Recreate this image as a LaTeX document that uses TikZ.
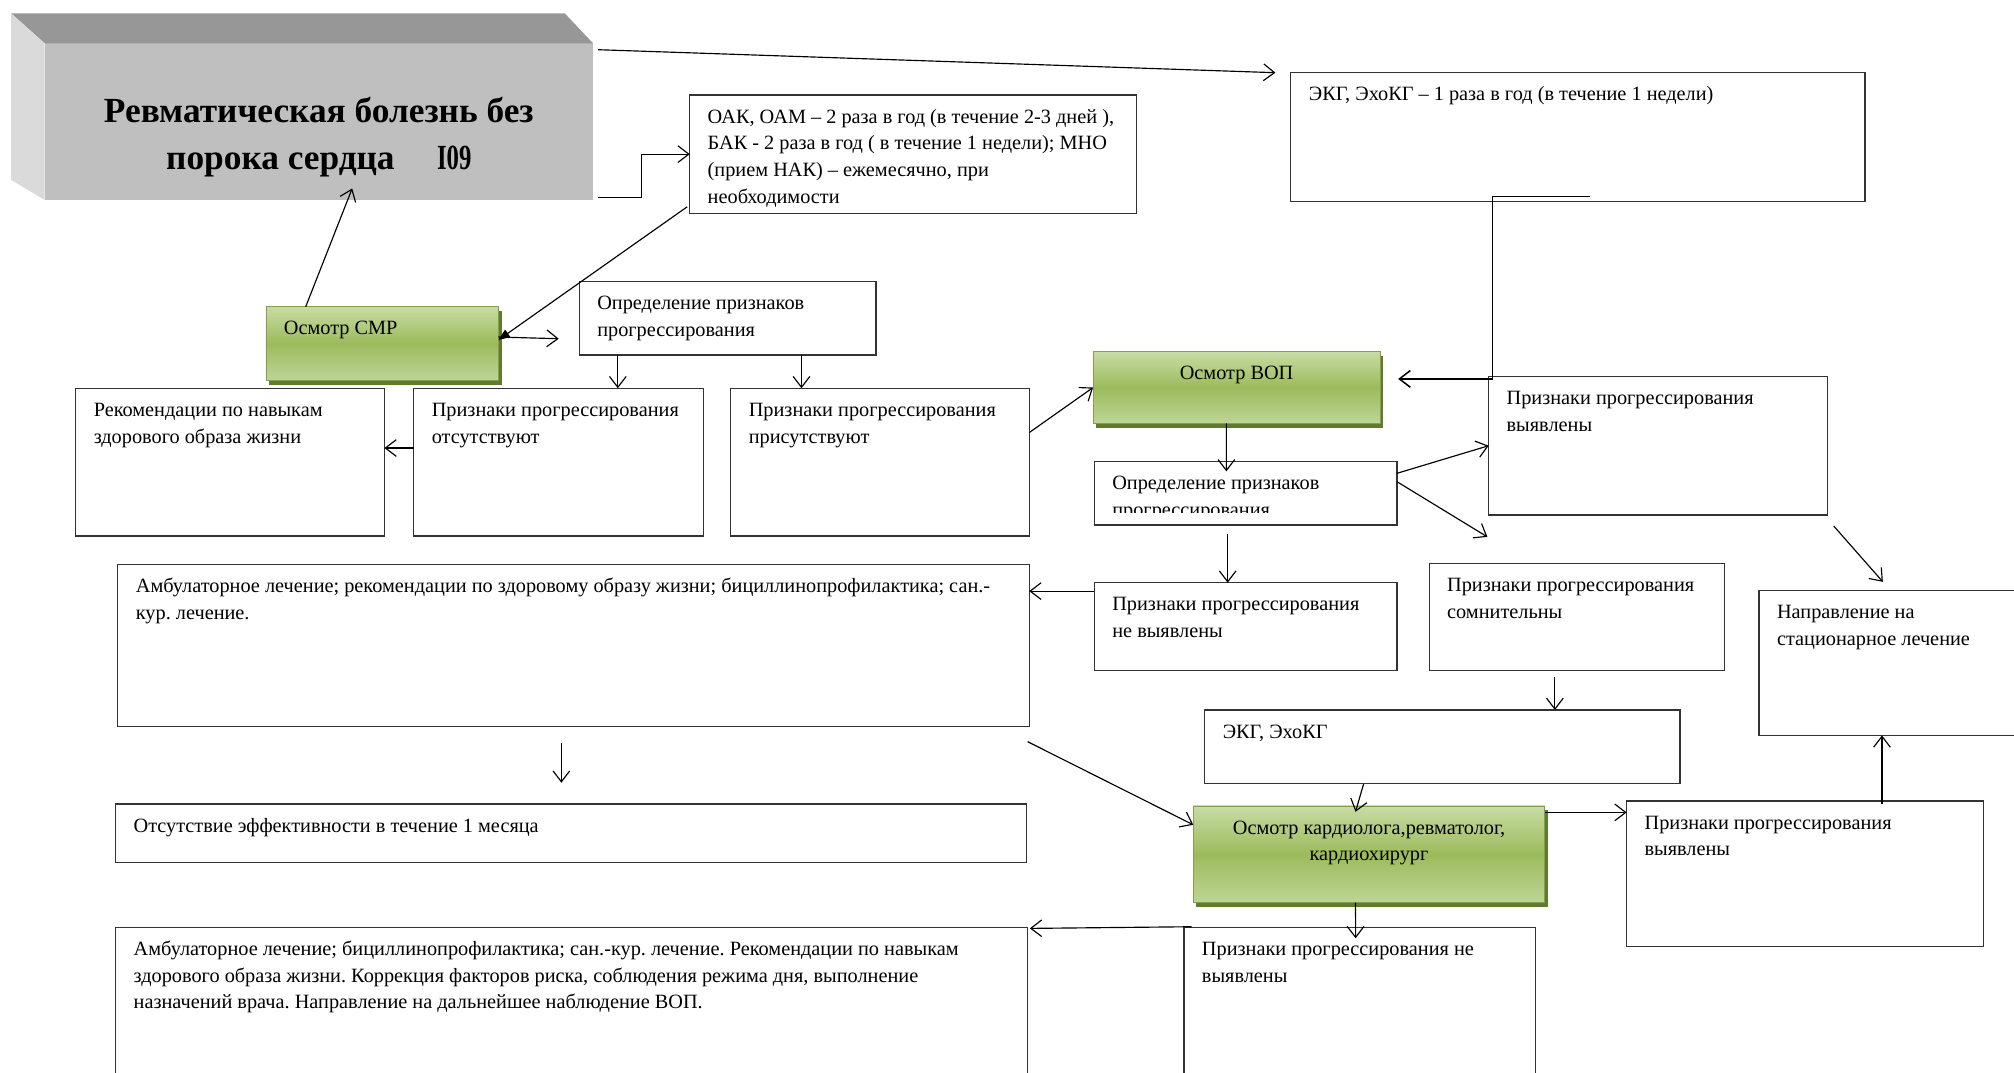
\documentclass[tikz,border=0pt]{standalone}
\usepackage{fontspec}
\usepackage{graphicx}
\setmainfont{Liberation Serif}
\usetikzlibrary{arrows.meta, positioning, shadows}

\definecolor{facegray}{HTML}{BFBFBF}
\definecolor{topgray}{HTML}{979797}
\definecolor{sidegray}{HTML}{DADADA}
\definecolor{greentop}{HTML}{C8DCA4}
\definecolor{greenmid}{HTML}{9CBB5C}
\definecolor{greenbot}{HTML}{BED596}
\definecolor{greenshade}{HTML}{5E7B2E}

\newcommand{\boxtxt}[3]{\parbox[c][#1][t]{#2}{\raggedright\frenchspacing\strut#3}}

\begin{document}
\begin{tikzpicture}[
    x=1pt, y=-1pt,
    font=\fontsize{15.8}{20.8}\selectfont,
    every node/.style={outer sep=0pt},
    block/.style={draw=black!80, line width=0.9pt, anchor=north west,
        inner xsep=14pt, inner ysep=7.3pt},
    exam/.style={block, draw=greenmid!85!black, line width=0.5pt,
        top color=greentop, bottom color=greenbot, middle color=greenmid,
        drop shadow={shadow xshift=2.5pt, shadow yshift=-3.5pt,
            fill=greenshade, opacity=1}},
    link/.style={line width=0.9pt, -{Straight Barb[length=8.5pt, width=13pt]}}
]

\useasboundingbox (0,0) rectangle (1568,835);
\clip (0,0) rectangle (1568,835);

% head block
\node[anchor=north west, fill=facegray, inner sep=0pt] (title) at (34.7,33.7)
    {\parbox[c][122pt][t]{427pt}{\centering\fontsize{27.5}{36.3}\selectfont\bfseries
    \vspace*{36.5pt}\strut Ревматическая болезнь без\\порока сердца\hspace{1.2em}\scalebox{0.7}[1]{I09}}};
\fill[topgray] ([shift={(-26,-23.3)}]title.north west) -- ([shift={(-22,-23.3)}]title.north east)
    -- (title.north east) -- (title.north west) -- cycle;
\fill[sidegray] ([shift={(-26,-23.3)}]title.north west) -- (title.north west)
    -- (title.south west) -- ([shift={(-26,-15.7)}]title.south west) -- cycle;

\node[block] (oak) at (537,74) {\boxtxt{77.4pt}{320pt}{ОАК, ОАМ – 2 раза в год (в течение 2-3 дней ),\\БАК - 2 раза в год ( в течение 1 недели); МНО\\(прием НАК) – ежемесячно, при\\необходимости}};
\node[block] (ecg1) at (1005,56.6) {\boxtxt{85.8pt}{419pt}{ЭКГ, ЭхоКГ – 1 раза в год (в течение 1 недели)}};

\node[exam] (smr) at (207,238.8) {\boxtxt{42.6pt}{153pt}{Осмотр СМР}};
\node[block] (opr1) at (451,219) {\boxtxt{42.8pt}{203pt}{Определение признаков\\прогрессирования}};

\node[block] (rec) at (59,302.3) {\boxtxt{100.4pt}{212.3pt}{Рекомендации по навыкам\\здорового образа жизни}};
\node[block] (absent) at (322.2,302.3) {\boxtxt{100.4pt}{197.6pt}{Признаки прогрессирования\\отсутствуют}};
\node[block] (present) at (569,302.3) {\boxtxt{100.4pt}{204.3pt}{Признаки прогрессирования\\присутствуют}};

\node[exam] (vop) at (851,273.8) {\boxtxt{41.2pt}{195.5pt}{\centering Осмотр ВОП}};
\node[block] (opr2) at (852,359.5) {\boxtxt{34.6pt}{207.6pt}{Определение признаков\\прогрессирования}};
\fill[white] ([shift={(1,-9.5)}]opr2.south west) rectangle ([shift={(-1,-0.6)}]opr2.south east);
\node[block] (found1) at (1159,293) {\boxtxt{93.4pt}{236pt}{Признаки прогрессирования\\выявлены}};
\node[block] (notfound1) at (852,453.7) {\boxtxt{53.9pt}{207.6pt}{Признаки прогрессирования\\не выявлены}};
\node[block] (doubt) at (1112.7,438.6) {\boxtxt{69pt}{201.7pt}{Признаки прогрессирования\\сомнительны}};
\node[block] (hosp) at (1369.5,460) {\boxtxt{97.9pt}{192pt}{Направление на\\стационарное лечение}};

\node[block] (amb1) at (91.8,439.4) {\boxtxt{111.8pt}{681.5pt}{Амбулаторное лечение; рекомендации по здоровому образу жизни; бициллинопрофилактика; сан.-\\кур. лечение.}};
\node[block] (noeff) at (90.1,626) {\boxtxt{31pt}{680.9pt}{Отсутствие эффективности в течение 1 месяца}};
\node[block] (amb2) at (90.1,722) {\boxtxt{115.4pt}{681.9pt}{Амбулаторное лечение; бициллинопрофилактика; сан.-кур. лечение. Рекомендации по навыкам\\здорового образа жизни. Коррекция факторов риска, соблюдения режима дня, выполнение\\назначений врача. Направление на дальнейшее наблюдение ВОП.}};

\node[block] (ecg2) at (938,552.8) {\boxtxt{42.5pt}{342pt}{ЭКГ, ЭхоКГ}};
\node[exam] (cardio) at (929,627.5) {\boxtxt{60.7pt}{245.7pt}{\centering Осмотр кардиолога,ревматолог,\\кардиохирург}};
\node[block] (found2) at (1266.4,623.6) {\boxtxt{98.8pt}{249.6pt}{Признаки прогрессирования\\выявлены}};
\node[block] (notfound2) at (921.8,722) {\boxtxt{115.4pt}{245.8pt}{Признаки прогрессирования не\\выявлены}};

\coordinate (smrout) at ([shift={(-16,16)}]opr1.west);
\coordinate (ecgtap) at ([shift={(-214,-4)}]ecg1.south east);
\coordinate (dangle) at ([shift={(-1,17)}]found1.south west);

\draw[link] ([shift={(4,5)}]title.north east) -- ([xshift=-12pt]ecg1.north west);
\draw[link] ([shift={(4,-2)}]title.south east) -- ++(34,0) |- (oak.west);
\draw[line width=0.9pt, -{Triangle[length=9pt, width=7pt]}]
    ([shift={(-2,-5)}]oak.south west) -- ([shift={(0,-2.7)}]smr.east);
\draw[link] ([shift={(0,-5)}]smr.east) -- (smrout);
\draw[link] ([xshift=-59.5pt]smr.north) -- ([shift={(26,-9)}]title.south);
\draw[link] ([xshift=-85.5pt]opr1.south) -- ([xshift=-85.5pt]opr1.south |- absent.north);
\draw[link] ([xshift=57.5pt]opr1.south) -- ([xshift=57.5pt]opr1.south |- present.north);
\draw[link] ([yshift=11pt]absent.west) -- ([yshift=11pt]absent.west -| rec.east);
\draw[link] ([shift={(0,-23)}]present.east) -- (vop.west);

\draw[link, line width=1.2pt] (ecgtap) -| ([shift={(3,2)}]found1.north west)
    -- ([shift={(14,-6.7)}]vop.east);
\draw[link] ([xshift=-8pt]vop.south) -- ([shift={(-15,7.5)}]opr2.north);
\draw[link] ([yshift=-9pt]opr2.north east) -- (found1.west);
\draw[link] ([yshift=-15.5pt]opr2.north east) -- (dangle);
\draw[link] ([shift={(-14,7)}]opr2.south) -- ([xshift=-14pt]opr2.south |- notfound1.north);
\draw[link] ([yshift=-6.5pt]notfound1.north west) -- ([yshift=-6.5pt]notfound1.north west -| amb1.east);
\draw[link] ([shift={(4.6,8.5)}]found1.south east) -- ([shift={(96.4,-7)}]hosp.north west);
\draw[link] ([shift={(-17,5)}]doubt.south) -- ([xshift=-17pt]doubt.south |- ecg2.north);

\draw[link] ([shift={(-61.4,0.5)}]ecg2.south) -- ([shift={(-10.5,4.5)}]cardio.north);
\draw[link] ([shift={(-1.3,11.6)}]amb1.south east) -- ([yshift=23pt]cardio.west);
\draw[link] ([yshift=-5pt]cardio.north east) -- ([yshift=-5pt]cardio.north east -| found2.west);
\draw[link] ([shift={(60,2)}]found2.north) -- ([xshift=60pt]found2.north |- hosp.south);
\draw[link] ([xshift=-10.5pt]cardio.south) -- ([shift={(-3.3,8.5)}]notfound2.north);
\draw[link] ([shift={(6,-0.5)}]notfound2.north west) -- ([shift={(1.8,0.8)}]amb2.north east);
\draw[link] ([shift={(-9.5,13)}]amb1.south) -- ([shift={(-9.5,-16.6)}]amb1.south |- noeff.north);

\end{tikzpicture}
\end{document}
